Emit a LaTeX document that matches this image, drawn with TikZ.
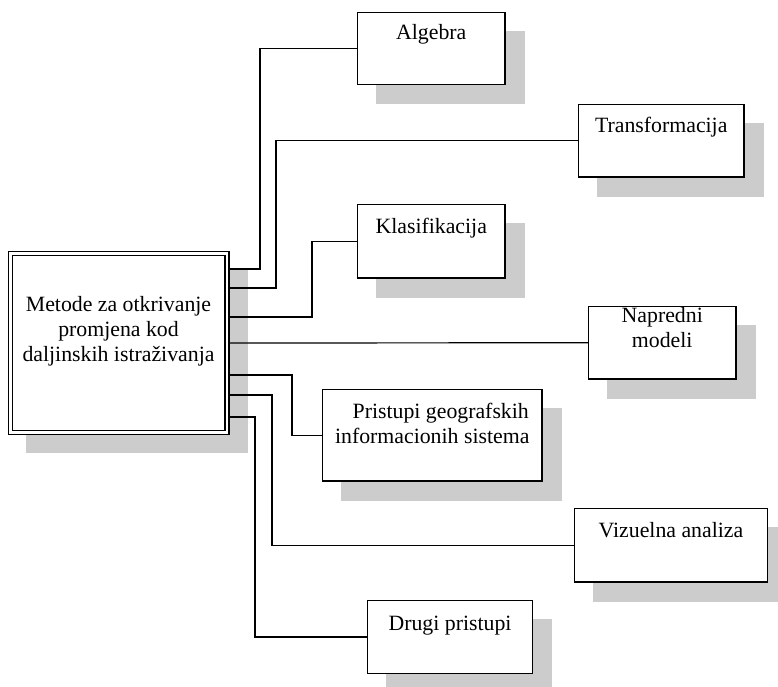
\documentclass[tikz,border=0pt]{standalone}
\usepackage{fontspec}
\setmainfont{Liberation Serif}
\usetikzlibrary{calc,backgrounds}

\tikzset{
  frame/.style={draw, line width=1.2pt, fill=white, rectangle, inner sep=0pt},
  mainframe/.style={frame, double, double distance=2.8pt, outer sep=2.6pt},
  txt/.style={inner sep=0pt, align=center, anchor=base,
    font=\fontsize{21.8}{25}\selectfont},
  link/.style={draw, line width=1.2pt},
  shadowfill/.style={fill=black!20},
}

\begin{document}
\begin{tikzpicture}[x=1pt, y=-1pt]
  \useasboundingbox (0,0) rectangle (778,687);

  % central box (caption anchored on its last baseline)
  \node[mainframe, minimum width=216.3pt, minimum height=179.4pt] (main) at (118.85,343) {};
  \node[txt] (main-t) at (118.5,361) {Metode za otkrivanje\\promjena kod\\daljinskih istraživanja};

  % method boxes
  \node[frame, minimum width=147.5pt, minimum height=72pt]   (alg) at (431.25,48.5) {};
  \node[frame, minimum width=165.5pt, minimum height=72.5pt] (tra) at (661.25,140.75) {};
  \node[frame, minimum width=147.5pt, minimum height=73.5pt] (kla) at (431.25,241.25) {};
  \node[frame, minimum width=147.5pt, minimum height=72.5pt] (nap) at (662.25,342.75) {};
  \node[frame, minimum width=219.5pt, minimum height=91.5pt] (pri) at (432.25,435.25) {};
  \node[frame, minimum width=193pt,   minimum height=73.5pt] (viz) at (671,545.25) {};
  \node[frame, minimum width=165pt,   minimum height=73pt]   (dru) at (450,637) {};

  % box captions, set from the top edge of each box (last baseline)
  \node[txt] (alg-t) at ($(alg.north)+(0,28)$)   {Algebra};
  \node[txt] (tra-t) at ($(tra.north)+(0,28.5)$) {Transformacija};
  \node[txt] (kla-t) at ($(kla.north)+(0,29.5)$) {Klasifikacija};
  \node[txt] (nap-t) at ($(nap.north)+(0,41.5)$) {Napredni\\modeli};
  \node[txt] (pri-t) at ($(pri.north)+(0,54.5)$) {\hspace*{17pt}Pristupi geografskih\\informacionih sistema};
  \node[txt] (viz-t) at ($(viz.north)+(0,29.5)$) {Vizuelna analiza};
  \node[txt] (dru-t) at ($(dru.north)+(0,30.5)$) {Drugi pristupi};

  % drop shadows
  \begin{pgfonlayer}{background}
    \fill[shadowfill] ([shift={(18,18)}]main.south west) rectangle ([shift={(18,18)}]main.north east);
    \foreach \b in {alg,tra,kla,nap,pri,viz,dru}
      \fill[shadowfill] ([shift={(19,19)}]\b.south west) rectangle ([shift={(19,19)}]\b.north east);
  \end{pgfonlayer}

  % start points on the right side of the central box
  \coordinate (s1) at (main.east |- 0,269);
  \coordinate (s2) at (main.east |- 0,288);
  \coordinate (s3) at (main.east |- 0,317);
  \coordinate (s5) at (main.east |- 0,375);
  \coordinate (s6) at (main.east |- 0,395);
  \coordinate (s7) at (main.east |- 0,417);

  % elbow connectors
  \draw[link] (s1) -- (s1 -| 260,0) |- (alg.west);
  \draw[link] (s2) -- (s2 -| 276,0) |- (tra.west);
  \draw[link] (s3) -- (s3 -| 312,0) |- (kla.west);
  \draw[link] (main.east) -- (nap.west);
  \draw[link] (s5) -- (s5 -| 292,0) |- (pri.west);
  \draw[link] (s6) -- (s6 -| 272,0) |- (viz.west);
  \draw[link] (s7) -- (s7 -| 255,0) |- (dru.west);
\end{tikzpicture}
\end{document}
